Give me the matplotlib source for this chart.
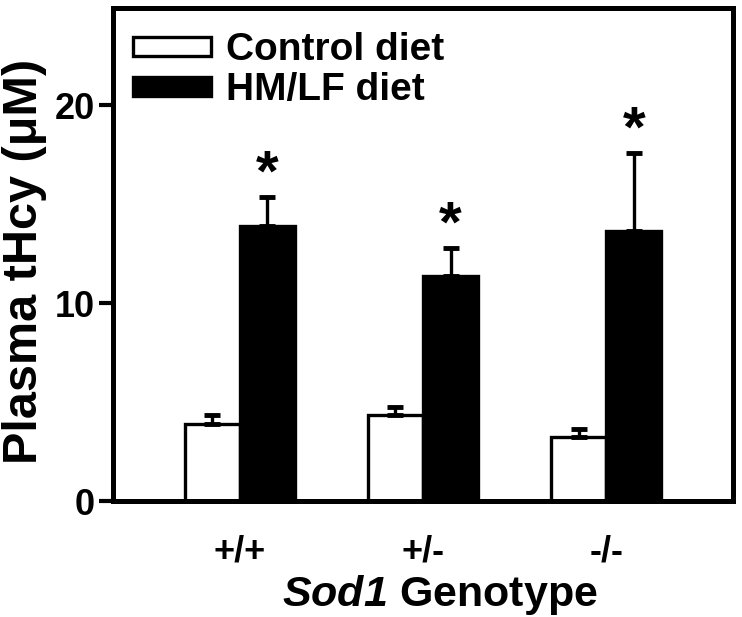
import numpy as np
import matplotlib
matplotlib.use("Agg")
import matplotlib.pyplot as plt

plt.rcParams['font.family'] = ['Liberation Sans', 'DejaVu Sans']
plt.rcParams['font.weight'] = 'bold'
plt.rcParams['mathtext.fontset'] = 'custom'
# only "Sod1" goes through mathtext, so make every math font bold italic
plt.rcParams['mathtext.it'] = 'Liberation Sans:italic:bold'
plt.rcParams['mathtext.rm'] = 'Liberation Sans:italic:bold'

genotypes = ["+/+", "+/-", "-/-"]
control_mean = [3.9, 4.35, 3.25]
control_err = [0.45, 0.4, 0.4]
hmlf_mean = [13.9, 11.35, 13.65]
hmlf_err = [1.45, 1.45, 3.95]
significant = [True, True, True]

fig = plt.figure(figsize=(7.42, 6.17), dpi=100)
ax = fig.add_axes([0.1523, 0.188, 0.8356, 0.799])

x = np.arange(len(genotypes))
w = 0.30
err_kw = dict(ecolor='black', elinewidth=2.4, capsize=6, capthick=3.5)

ax.bar(x - w / 2, control_mean, w, color='white', edgecolor='black',
       linewidth=2.4, label='Control diet',
       yerr=[np.zeros(3), control_err], error_kw=err_kw)
ax.bar(x + w / 2, hmlf_mean, w, color='black', edgecolor='black',
       linewidth=2.4, label='HM/LF diet',
       yerr=[np.zeros(3), hmlf_err], error_kw=err_kw)

for i, sig in enumerate(significant):
    if sig:
        top = hmlf_mean[i] + hmlf_err[i]
        ax.text(x[i] + w / 2, top - 0.3, '*', ha='center', va='bottom',
                fontsize=42, fontweight='bold')

ax.set_xlim(-0.69, 2.69)
ax.set_ylim(0, 24.9)
ax.set_yticks([0, 10, 20])
ax.set_xticks(x)
ax.set_xticklabels(genotypes, fontsize=26, fontweight='bold')
ax.tick_params(axis='x', length=0, pad=24)
ax.tick_params(axis='y', length=10, width=3, labelsize=26, pad=3)
for s in ax.spines.values():
    s.set_linewidth(3.6)

ax.set_ylabel('Plasma tHcy (μM)', fontsize=35, fontweight='bold')
ax.yaxis.set_label_coords(-0.107, 0.485)
ax.set_xlabel(r'$\mathrm{Sod1}$ Genotype', fontsize=31, fontweight='bold')
ax.xaxis.set_label_coords(0.527, -0.147)

ax.legend(loc='upper left', bbox_to_anchor=(0.007, 0.982), frameon=False,
          handlelength=2.0, handleheight=0.38, handletextpad=0.4,
          labelspacing=0.1, borderaxespad=0,
          prop={'weight': 'bold', 'size': 28})

fig.savefig('out.png', dpi=100)
